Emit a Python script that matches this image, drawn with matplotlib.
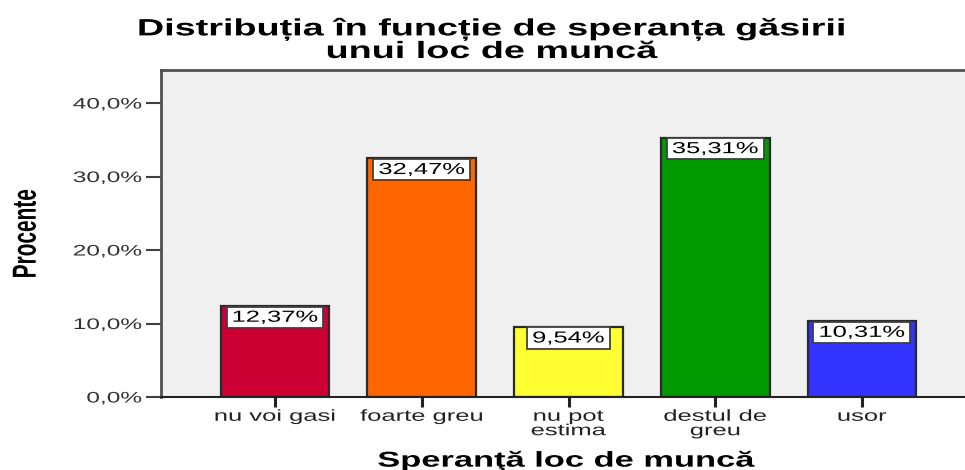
"""Bar chart: distributia in functie de speranta gasirii unui loc de munca"""

import matplotlib
matplotlib.use('Agg')
import matplotlib.pyplot as plt
import matplotlib.patheffects as pe
from matplotlib.transforms import Affine2D


# Data
categories = ['nu voi gasi', 'foarte greu', 'nu pot\nestima', 'destul de\ngreu', 'usor']
percent = [12.37, 32.47, 9.54, 35.31, 10.31]
bar_colors = ['#CC0033', '#FF6600', '#FFFF33', '#009900', '#3333FF']
y_ticks = [0, 10, 20, 30, 40]

plt.rcParams['font.family'] = ['Liberation Sans', 'DejaVu Sans']

STRETCH = 1.6   # the reference text looks wide, as if squeezed vertically


class Stretch(pe.AbstractPathEffect):
    """Widens a drawn path horizontally around an anchor (center/left/right)"""

    def __init__(self, sx=STRETCH, anchor='center'):
        super().__init__()
        self.sx = sx
        self.anchor = anchor

    def draw_path(self, renderer, gc, tpath, affine, rgbFace=None):
        box = tpath.get_extents(affine)
        if self.anchor == 'right':
            x0 = box.x1
        elif self.anchor == 'left':
            x0 = box.x0
        else:
            x0 = (box.x0 + box.x1) / 2
        wide = Affine2D().translate(-x0, 0).scale(self.sx, 1).translate(x0, 0)
        renderer.draw_path(gc, tpath, affine + wide, rgbFace)


fig = plt.figure(figsize=(9.65, 4.70), dpi=100)
ax = fig.add_axes([161 / 965, 73 / 470, 1 - 161 / 965, 327 / 470])
ax.set_facecolor('#F0F0F0')

x = list(range(len(categories)))
ax.bar(x, percent, width=0.74, color=bar_colors, edgecolor='#2a2a2a', linewidth=1.6, zorder=2)

# Value boxes hanging from the top of each bar
for xi, v in zip(x, percent):
    t = ax.annotate(f'{v:.2f}%'.replace('.', ','), xy=(xi, v), xytext=(0, -2.6),
                    textcoords='offset points', ha='center', va='top', fontsize=11.5,
                    bbox=dict(boxstyle='square,pad=0.2', fc='white', ec='#404040', lw=1.3),
                    zorder=3)
    t.set_path_effects([Stretch()])
    t.get_bbox_patch().set_path_effects([Stretch()])

ax.set_xlim(-0.777, 4.702)
ax.set_ylim(0, 44.5)

ax.set_yticks(y_ticks)
ax.set_yticklabels([f'{v:.1f}%'.replace('.', ',') for v in y_ticks], fontsize=11, color='#333333')
ax.set_xticks(x)
ax.set_xticklabels(categories, fontsize=11.5, color='#222222', linespacing=0.95)
ax.tick_params(axis='y', length=11, width=1.5, color='#404040', pad=3)
ax.tick_params(axis='x', direction='out', length=7, width=2.2, color='#222222', pad=1.5)

for lbl in ax.get_yticklabels():
    lbl.set_path_effects([Stretch(anchor='right')])
for lbl in ax.get_xticklabels():
    lbl.set_path_effects([Stretch()])

for side in ['left', 'top']:
    ax.spines[side].set_color('#505050')
    ax.spines[side].set_linewidth(2)
ax.spines['bottom'].set_color('#222222')
ax.spines['bottom'].set_linewidth(1.5)
ax.spines['right'].set_visible(False)

ax.set_ylabel('Procente', fontsize=15, fontweight='bold', va='center')
ax.yaxis.set_label_coords(-0.168, 0.5)
ax.yaxis.label.set_path_effects([Stretch()])

ax.set_xlabel('Speranţă loc de muncă', fontsize=15.5, fontweight='bold', va='baseline')
ax.xaxis.set_label_coords(0.504, -0.213)
ax.xaxis.label.set_path_effects([Stretch()])

title = fig.text(0.51, 1 - 58 / 470, 'Distribuția în funcție de speranța găsirii\nunui loc de muncă',
                 ha='center', va='baseline', fontsize=17, fontweight='bold', linespacing=0.95)
title.set_path_effects([Stretch()])

fig.savefig('out.png', dpi=100, facecolor='white')
